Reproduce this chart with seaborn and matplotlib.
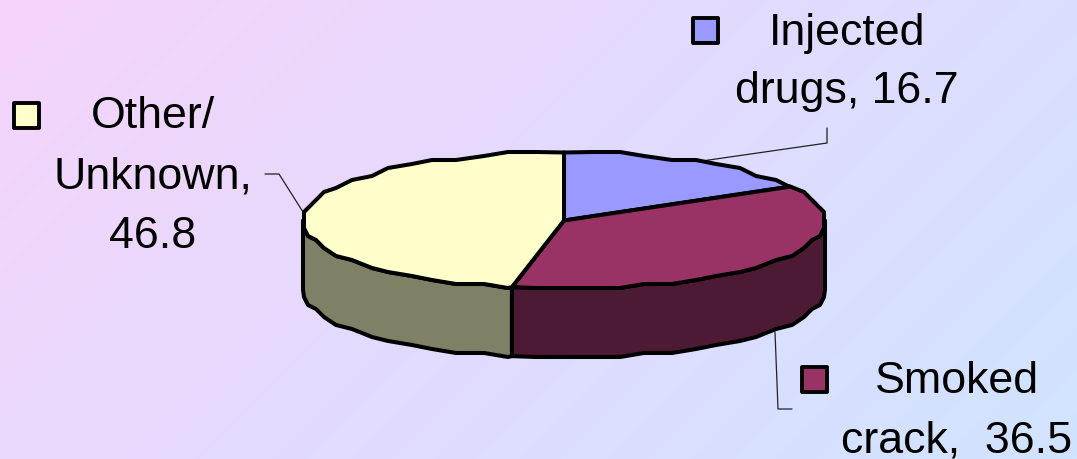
import numpy as np
import matplotlib
matplotlib.use("Agg")
import matplotlib.pyplot as plt
from matplotlib.colors import LinearSegmentedColormap
from matplotlib.patches import Polygon, Rectangle
import seaborn as sns

# Share of cases by route of exposure
categories = ["Injected drugs", "Smoked crack", "Other/Unknown"]
values = [16.7, 36.5, 46.8]
top_colors = ["#9999FF", "#993366", "#FFFFCC"]
side_colors = ["#4D4D80", "#4D1A33", "#808066"]
label_lines = [["Injected", "drugs, {}"], ["Smoked", "crack,  {}"], ["Other/", "Unknown,", "{}"]]

W, H = 1077, 459
CX, CY, RX, RY, DEPTH = 564, 220.5, 261, 68, 69
GRID = 4.0
STEP = 6
EDGE = 2.9

sns.set_theme(style="white")
plt.rcParams["font.family"] = ["Liberation Sans", "DejaVu Sans"]

fig = plt.figure(figsize=(W / 100, H / 100), dpi=100)
ax = fig.add_axes([0, 0, 1, 1])
ax.set_xlim(0, W)
ax.set_ylim(H, 0)
ax.axis("off")

# Diagonal background wash
yy, xx = np.mgrid[0:1:230j, 0:1:540j]
wash = LinearSegmentedColormap.from_list("wash", ["#F6D4FA", "#E2DBFE", "#D0E4FF"])
ax.imshow((xx * W + yy * H) / (W + H), cmap=wash, extent=(0, W, H, 0), aspect="auto", zorder=0)


def rim(a0, a1, dy=0.0):
    """Outline of the disc between two clockwise angles from twelve o'clock."""
    grid_angles = np.arange(np.ceil(a0 / STEP), np.floor(a1 / STEP) + 1) * STEP
    inner_angles = grid_angles[(grid_angles > a0) & (grid_angles < a1)]
    a = np.radians(np.concatenate([[a0], inner_angles, [a1]]))
    pts = np.column_stack([CX + RX * np.sin(a), CY - RY * np.cos(a)])
    snapped = np.round(pts / GRID) * GRID
    snapped[0], snapped[-1] = pts[0], pts[-1]
    snapped[:, 1] += dy
    return snapped


edges = np.concatenate([[0], np.cumsum(values)]) / sum(values) * 360

# Outer walls: only the part of each slice facing the viewer
for i in range(len(values)):
    a0, a1 = max(edges[i], 90), min(edges[i + 1], 270)
    if a1 > a0:
        wall = np.vstack([rim(a0, a1), rim(a0, a1, DEPTH)[::-1]])
        ax.add_patch(Polygon(wall, closed=True, fc=side_colors[i], ec="black", lw=EDGE,
                             joinstyle="round", zorder=2))

# Top faces
for i in range(len(values)):
    face = np.vstack([[[CX, CY]], rim(edges[i], edges[i + 1])])
    ax.add_patch(Polygon(face, closed=True, fc=top_colors[i], ec="black", lw=EDGE,
                         joinstyle="round", zorder=3))

# Data labels: key square, text lines, leader line
squares = [(693, 18), (802, 367), (14, 103)]
text_x = [847, 957, 153]
baselines = [[45, 103], [393, 452], [128, 188, 248]]
leaders = [
    [(827, 128), (827, 143), (695, 162)],
    [(775, 332), (778, 409), (792, 409)],
    [(265, 174), (279, 174), (303, 212)],
]
for i, value in enumerate(values):
    x0, y0 = squares[i]
    ax.add_patch(Rectangle((x0, y0), 25, 25, fc=top_colors[i], ec="black", lw=2.8,
                           joinstyle="round", zorder=4))
    for line, base in zip(label_lines[i], baselines[i]):
        ax.text(text_x[i], base, line.format(value), ha="center", va="baseline",
                fontsize=32.2, color="black", zorder=4)
    lx, ly = zip(*leaders[i])
    ax.plot(lx, ly, color="#222222", lw=0.9, zorder=1)

fig.savefig("out.png", dpi=100)
